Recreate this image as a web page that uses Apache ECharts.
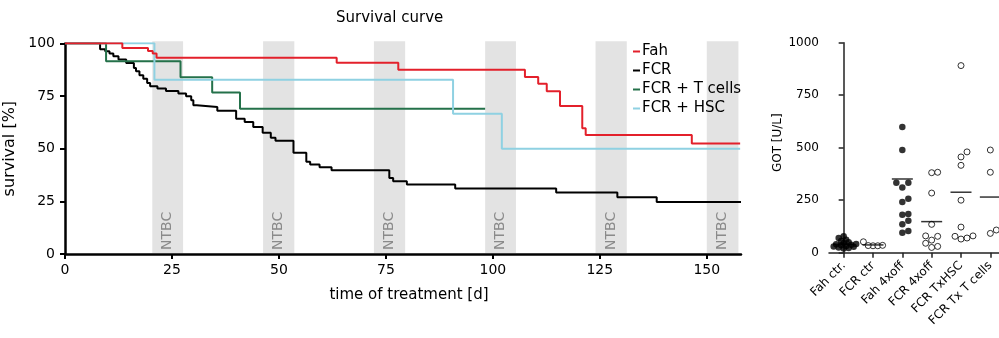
<!DOCTYPE html>
<html><head><meta charset="utf-8">
<script src="https://cdn.jsdelivr.net/npm/echarts@6/dist/echarts.min.js"></script>
<style>html,body{margin:0;padding:0;background:#fff}#c{width:999px;height:338px}</style>
</head><body><div id="c"></div>
<script>
// ---------- Survival curve data ----------
const xTicks = [0, 25, 50, 75, 100, 125, 150];
const yTicks = [0, 25, 50, 75, 100];
const seriesNames = ['Fah', 'FCR', 'FCR + T cells', 'FCR + HSC'];

const fahT = [0, 13.4, 19.4, 20.5, 21.4, 63.5, 77.9, 107.5, 110.6, 112.6, 115.7, 120.9, 121.7, 146.5, 157.8];
const fahS = [100, 97.8, 96.4, 95.1, 93.2, 90.8, 87.4, 84.0, 80.8, 77.2, 70.3, 59.7, 56.5, 52.5, 52.5];

const fcrT = [0, 8.2, 9.4, 10.4, 11.3, 12.5, 14.3, 16.1, 16.6, 17.4, 18.3, 19.2, 19.9, 21.6, 23.6, 26.5, 28.3, 29.5, 30.0, 30.8, 35.6, 40.0, 42.0, 44.0, 46.2, 48.1, 49.2, 53.4, 56.4, 57.3, 59.5, 62.3, 75.8, 76.7, 79.9, 91.2, 114.8, 129.1, 138.3, 158];
const fcrS = [100, 97.2, 96.2, 95.1, 93.8, 92.3, 90.7, 88.3, 86.7, 84.8, 83.2, 81.2, 79.6, 78.5, 77.4, 76.2, 74.9, 73.0, 70.6, 69.8, 68.0, 64.2, 62.7, 60.3, 57.5, 55.2, 53.7, 48.1, 43.8, 42.5, 41.2, 39.7, 36.1, 34.5, 33.0, 31.1, 29.2, 26.9, 24.7, 24.7];

const tcT = [0, 9.6, 27.0, 34.4, 40.9, 98.2];
const tcS = [100, 91.5, 83.9, 76.6, 68.9, 68.9];

const hscT = [0, 20.9, 90.7, 102.1, 157.8];
const hscS = [100, 82.7, 66.6, 50.0, 50.0];

const ntbcStart = [20.4, 46.3, 72.2, 98.2, 124.0, 150.0];
const ntbcEnd   = [27.6, 53.6, 79.5, 105.4, 131.3, 157.4];

// ---------- GOT data ----------
const gotCats = ['Fah ctr.', 'FCR ctr', 'Fah 4xoff', 'FCR 4xoff', 'FCR TxHSC', 'FCR Tx T cells'];
const gotTicks = [0, 250, 500, 750, 1000];
const gotFahCtr = [78, 70, 62, 56, 50, 46, 42, 40, 38, 35, 32, 30, 28, 25, 22, 20];
const gotFcrCtr = [52, 35, 34, 33, 33];
const gotFah4x = [598, 489, 333, 333, 310, 257, 241, 184, 181, 152, 135, 103, 95];
const gotFcr4x = [383, 381, 284, 135, 80, 78, 60, 45, 30, 25];
const gotTxHsc = [891, 480, 456, 416, 250, 122, 80, 78, 70, 65];
const gotTxT = [489, 383, 108, 92];
const gotMean = [40, 37, 351, 148, 288, 265];

// ---------- layout ----------
const FONT = 'DejaVu Sans';
const G1 = {left: 65, top: 43.3, width: 676, height: 210.7};
const G2 = {left: 829, top: 42.7, width: 176, height: 210};
const CAT_PX = G2.width / gotCats.length;
const Y_PX = G2.height / 1000;

function zip(a, b) { return a.map((v, i) => [v, b[i]]); }

function swarm(vals, idx, D, STEP) {
  const placed = [], out = [];
  const sorted = vals.slice().sort((a, b) => a - b);
  for (const v of sorted) {
    const py = v * Y_PX;
    let off = 0;
    for (let k = 0; k < 60; k++) {
      const cand = k === 0 ? 0 : (k % 2 ? 1 : -1) * Math.ceil(k / 2) * STEP;
      if (placed.every(p => Math.hypot(p[0] - cand, p[1] - py) >= D)) { off = cand; break; }
    }
    placed.push([off, py]);
    out.push([idx + off / CAT_PX, v]);
  }
  return out;
}

const groups = [gotFahCtr, gotFcrCtr, gotFah4x, gotFcr4x, gotTxHsc, gotTxT];
const swarmGap = [[3.2, 2.5], [4.8, 2.4], [6, 3], [6, 3], [6, 3], [6, 3]];
const filledIdx = [0, 2];
const filledData = [], openData = [];
groups.forEach((g, i) => {
  const pts = swarm(g, i, swarmGap[i][0], swarmGap[i][1]);
  (filledIdx.includes(i) ? filledData : openData).push(...pts);
});

const lineColors = ['#e3202b', '#000000', '#24714a', '#8fd1e2'];
const lineData = [zip(fahT, fahS), zip(fcrT, fcrS), zip(tcT, tcS), zip(hscT, hscS)];
const drawOrder = [1, 2, 3, 0];

const chart = echarts.init(document.getElementById('c'), null, {renderer: 'canvas'});

const option = {
  animation: false,
  backgroundColor: '#fff',
  textStyle: {fontFamily: FONT},
  title: {
    text: 'Survival curve', left: 331, top: 6,
    textStyle: {fontFamily: FONT, fontSize: 15, fontWeight: 'normal', color: '#000'}
  },
  legend: {
    orient: 'vertical', left: 628, top: 37,
    data: seriesNames,
    icon: 'rect', itemWidth: 7, itemHeight: 2, itemGap: 0,
    textStyle: {fontFamily: FONT, fontSize: 15, color: '#000', lineHeight: 19, padding: [0, 0, 0, -3]},
    selectedMode: false
  },
  grid: [
    {left: G1.left, top: G1.top, width: G1.width, height: G1.height, containLabel: false, outerBoundsMode: 'none'},
    {left: G2.left, top: G2.top, width: G2.width, height: G2.height, containLabel: false, outerBoundsMode: 'none'}
  ],
  xAxis: [
    {
      type: 'value', gridIndex: 0, min: 0, max: 158,
      name: 'time of treatment [d]', nameLocation: 'middle', nameGap: 34,
      nameTextStyle: {fontFamily: FONT, fontSize: 15, color: '#000', padding: [0, 0, 0, 12]},
      axisLine: {show: true, lineStyle: {color: '#000', width: 2.5}},
      axisTick: {show: true, length: 5, lineStyle: {color: '#000', width: 2}, customValues: xTicks},
      axisLabel: {fontFamily: FONT, fontSize: 14, color: '#000', margin: 9, customValues: xTicks},
      splitLine: {show: false}
    },
    {
      type: 'category', gridIndex: 1, data: gotCats, boundaryGap: true,
      axisLine: {show: true, lineStyle: {color: '#222', width: 1.5}},
      axisTick: {show: true, alignWithLabel: true, length: 5, lineStyle: {color: '#222', width: 1.5}},
      axisLabel: {fontFamily: FONT, fontSize: 12, color: '#000', rotate: 45, margin: 11, interval: 0},
      splitLine: {show: false}
    },
    {
      type: 'value', gridIndex: 1, min: -0.5, max: 5.5, show: false
    }
  ],
  yAxis: [
    {
      type: 'value', gridIndex: 0, min: 0, max: 100, interval: 25,
      name: 'survival [%]', nameLocation: 'middle', nameGap: 33, nameRotate: 90,
      nameTextStyle: {fontFamily: FONT, fontSize: 16, color: '#000'},
      axisLine: {show: true, lineStyle: {color: '#000', width: 2.5}},
      axisTick: {show: true, length: 5, lineStyle: {color: '#000', width: 2}},
      axisLabel: {fontFamily: FONT, fontSize: 14, color: '#000', margin: 10, customValues: yTicks},
      splitLine: {show: false}
    },
    {
      type: 'value', gridIndex: 1, min: 0, max: 1000, interval: 250,
      name: 'GOT [U/L]', nameLocation: 'middle', nameGap: 45, nameRotate: 90,
      nameTextStyle: {fontFamily: FONT, fontSize: 12, color: '#000', padding: [0, 0, 0, 10]},
      axisLine: {show: true, lineStyle: {color: '#222', width: 1.5}},
      axisTick: {show: true, length: 5, lineStyle: {color: '#222', width: 1.5}},
      axisLabel: {fontFamily: FONT, fontSize: 12, color: '#000', margin: 10, customValues: gotTicks,
                  formatter: v => String(v)},
      splitLine: {show: false}
    }
  ],
  series: [
    {
      type: 'custom', xAxisIndex: 0, yAxisIndex: 0, silent: true, z: 1,
      data: zip(ntbcStart, ntbcEnd),
      renderItem: function (params, api) {
        const p0 = api.coord([api.value(0), 100]);
        const p1 = api.coord([api.value(1), 0]);
        return {
          type: 'group', children: [
            {type: 'rect', shape: {x: p0[0], y: p0[1] - 2, width: p1[0] - p0[0], height: p1[1] - p0[1] + 1},
             style: {fill: '#e3e3e3'}},
            {type: 'text', x: (p0[0] + p1[0]) / 2, y: p1[1] - 4, rotation: Math.PI / 2,
             style: {text: 'NTBC', fill: '#8a8a8a', font: '14px "DejaVu Sans"', align: 'left', verticalAlign: 'middle'}}
          ]
        };
      }
    },
    ...drawOrder.map(i => ({
      name: seriesNames[i], type: 'line', xAxisIndex: 0, yAxisIndex: 0,
      step: 'end', showSymbol: false, symbol: 'none', z: 3 + drawOrder.indexOf(i),
      data: lineData[i],
      itemStyle: {color: lineColors[i]},
      lineStyle: {color: lineColors[i], width: 2}
    })),
    {
      type: 'scatter', xAxisIndex: 2, yAxisIndex: 1, data: filledData,
      symbol: 'circle', symbolSize: 6.5, itemStyle: {color: '#000'}, z: 3
    },
    {
      type: 'scatter', xAxisIndex: 2, yAxisIndex: 1, data: openData,
      symbol: 'circle', symbolSize: 6, itemStyle: {color: '#fff', borderColor: '#000', borderWidth: 1}, z: 3
    },
    {
      type: 'scatter', xAxisIndex: 2, yAxisIndex: 1, data: gotMean.map((v, i) => [i, v]),
      symbol: 'rect', symbolSize: [21, 1.5], itemStyle: {color: '#000'}, z: 4, clip: false
    }
  ]
};
chart.setOption(option);
</script>
</body></html>
